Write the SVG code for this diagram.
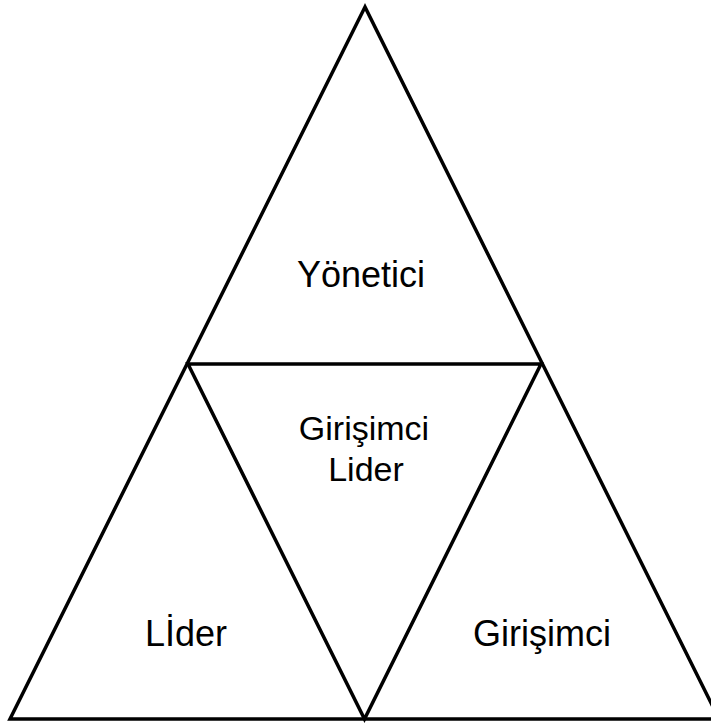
<svg xmlns="http://www.w3.org/2000/svg" width="711" height="725" viewBox="0 0 711 725">
<style>
.e{stroke:#000;stroke-width:3.5;fill:none;stroke-linejoin:miter}
.t{font-family:"Liberation Sans",Arial,sans-serif;font-size:36px;fill:#000;text-anchor:middle}
</style>
<rect width="711" height="725" fill="#fff"/>
<g id="connectors">
<path class="e" d="M365,7 L10,719 L719,719 Z"/>
<path class="e" d="M188,364 L541,364 L364.5,719 Z"/>
</g>
<g id="yonetici"><text class="t" x="361" y="287">Yönetici</text></g>
<g id="girisimci-lider"><text class="t" x="364" y="440" style="font-size:34px">Girişimci</text><text class="t" x="366" y="481" style="font-size:34px">Lider</text></g>
<g id="lider"><text class="t" x="186" y="646">Lİder</text></g>
<g id="girisimci"><text class="t" x="542" y="646">Girişimci</text></g>
</svg>
